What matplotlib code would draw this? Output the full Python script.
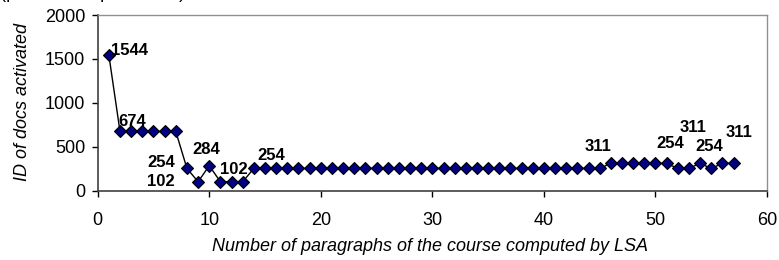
import matplotlib
matplotlib.use("Agg")
import matplotlib.pyplot as plt

# ---- data ----
x_vals = list(range(1, 58))
y_vals = ([1544] + [674] * 6 + [254, 102, 284, 102, 102, 102] + [254] * 32
          + [311] * 6 + [254, 254, 311, 254, 311, 311])
label_x = [1, 2, 8, 9, 10, 12, 14, 46, 52, 54, 55, 57]
label_text = ["1544", "674", "254", "102", "284", "102", "254", "311", "254", "311", "254", "311"]
x_ticks = [0, 10, 20, 30, 40, 50, 60]
y_ticks = [0, 500, 1000, 1500, 2000]
x_title = "Number of paragraphs of the course computed by LSA"
y_title = "ID of docs activated"
top_text = "(p        of step 1 above)"

# label offsets in pixels (dx, dy) and horizontal alignment
label_off = [(2, 5, 'left'), (-2, 10, 'left'), (-12, 6, 'right'), (-23, 0, 'right'),
             (-3, 16, 'center'), (2, 12, 'center'), (17, 13, 'center'), (-13, 17, 'center'),
             (-8, 25, 'center'), (-7, 36, 'center'), (-2, 22, 'center'), (6, 31, 'center')]

DPI = 100
plt.rcParams['font.family'] = ['Liberation Sans', 'DejaVu Sans']
fig = plt.figure(figsize=(7.79, 2.60), dpi=DPI)
ax = fig.add_axes([97.7 / 779, 1 - 190.7 / 260, (767 - 97.7) / 779, (190.7 - 15) / 260])

ax.plot(x_vals, y_vals, color='black', lw=1.0, marker='D', ms=5.8,
        markerfacecolor='#000080', markeredgecolor='black', markeredgewidth=0.8,
        clip_on=False, zorder=3)

for lx, lt, (dx, dy, ha) in zip(label_x, label_text, label_off):
    ly = y_vals[x_vals.index(lx)]
    ax.annotate(lt, (lx, ly), xytext=(dx * 72 / DPI, dy * 72 / DPI),
                textcoords='offset points', ha=ha, va='center',
                fontsize=12, fontweight='bold', color='black', zorder=4)

ax.set_xlim(0, 60)
ax.set_ylim(0, 2000)
ax.set_xticks(x_ticks)
ax.set_yticks(y_ticks)
ax.tick_params(axis='both', direction='out', length=4, width=1, labelsize=13, colors='black')
ax.tick_params(axis='x', pad=11)
ax.tick_params(axis='y', pad=5)

for s in ['left', 'bottom']:
    ax.spines[s].set_color('#404040')
    ax.spines[s].set_linewidth(1.2)
for s in ['top', 'right']:
    ax.spines[s].set_color('#909090')
    ax.spines[s].set_linewidth(1.0)

fig.text(430 / 779, 1 - 246.5 / 260, x_title, ha='center', va='center',
         fontsize=13, style='italic')
fig.text(23 / 779, 1 - 102 / 260, y_title, ha='center', va='center',
         fontsize=13, style='italic', rotation=90)
fig.text(0.0, 1 + 1.5 / 260, top_text, ha='left', va='baseline', fontsize=13)

fig.savefig("out.png", dpi=DPI)
